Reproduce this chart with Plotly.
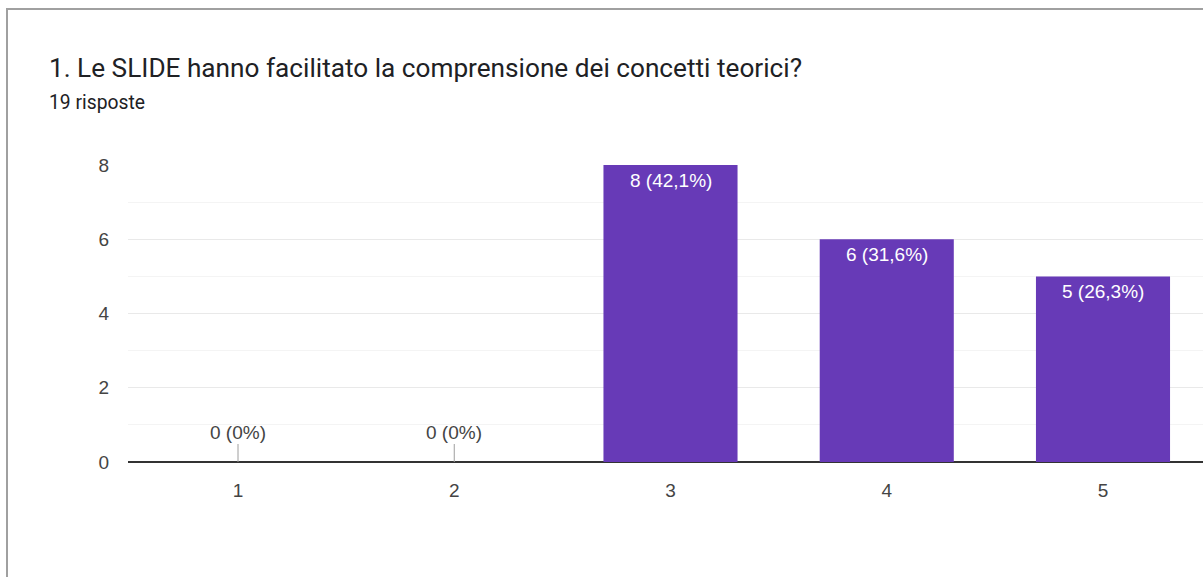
import plotly.graph_objects as go

categories = ["1", "2", "3", "4", "5"]
counts = [0, 0, 8, 6, 5]
labels = ["0 (0%)", "0 (0%)", "8 (42,1%)", "6 (31,6%)", "5 (26,3%)"]
y_ticks = [0, 2, 4, 6, 8]

title_text = "1. Le SLIDE hanno facilitato la comprensione dei concetti teorici?"
subtitle_text = "19 risposte"

W, H = 1203, 577
ML, MR, MT, MB = 128, 0, 165, 115
PW, PH = W - ML - MR, H - MT - MB

def px_x(p):
    return (p - ML) / PW

def px_y(p):
    return (H - MB - p) / PH

PURPLE = "#673ab7"
TFONT = "Roboto"
CFONT = "Liberation Sans, Arial"
CSIZE = 19
BAND = 216.25
X0 = 1 - 110 / BAND

fig = go.Figure()
fig.add_trace(go.Bar(
    x=list(range(1, 6)), y=counts,
    marker=dict(color=PURPLE, line=dict(width=0)),
    width=0.62, hoverinfo="skip",
))

annotations = []
for i, (c, lab) in enumerate(zip(counts, labels)):
    xv = i + 1
    if c > 0:
        annotations.append(dict(
            x=xv, y=c, xref="x", yref="y", text=lab, showarrow=False,
            yanchor="top", yshift=-3,
            font=dict(family=CFONT, size=CSIZE, color="#ffffff"),
        ))
    else:
        annotations.append(dict(
            x=xv, y=0, xref="x", yref="y", text=lab, showarrow=True,
            ax=0, ay=-30, arrowhead=0, arrowwidth=1, arrowcolor="#9e9e9e",
            font=dict(family=CFONT, size=CSIZE, color="#444444"),
        ))

annotations.append(dict(
    x=px_x(47), y=px_y(68), xref="paper", yref="paper", text=title_text,
    showarrow=False, xanchor="left", yanchor="middle",
    font=dict(family=TFONT, size=26.2, color="#202124"),
))
annotations.append(dict(
    x=px_x(47), y=px_y(102), xref="paper", yref="paper", text=subtitle_text,
    showarrow=False, xanchor="left", yanchor="middle",
    font=dict(family=TFONT, size=19.3, color="#202124"),
))

fig.update_layout(
    width=W, height=H,
    margin=dict(l=ML, r=MR, t=MT, b=MB, pad=0),
    paper_bgcolor="white", plot_bgcolor="white",
    showlegend=False,
    font=dict(family=CFONT, size=CSIZE, color="#444444"),
    annotations=annotations,
    shapes=[dict(
        type="rect", xref="paper", yref="paper",
        x0=px_x(7), x1=px_x(1300), y0=px_y(700), y1=px_y(9),
        line=dict(color="#a0a0a0", width=2), fillcolor="rgba(0,0,0,0)",
        layer="above",
    )],
    xaxis=dict(
        range=[X0, X0 + PW / BAND],
        tickmode="array", tickvals=list(range(1, 6)), ticktext=categories,
        showgrid=False, zeroline=False, showline=False,
        ticks="outside", ticklen=11, tickcolor="rgba(0,0,0,0)",
        tickfont=dict(family=CFONT, size=CSIZE, color="#444444"),
    ),
    yaxis=dict(
        range=[0, 8], tickmode="array", tickvals=y_ticks,
        showgrid=True, gridcolor="#e9e9e9", gridwidth=1,
        minor=dict(dtick=1, showgrid=True, gridcolor="#f4f4f4", gridwidth=1),
        zeroline=True, zerolinecolor="#333333", zerolinewidth=2,
        showline=False,
        ticks="outside", ticklen=14, tickcolor="rgba(0,0,0,0)",
        tickfont=dict(family=CFONT, size=CSIZE, color="#444444"),
    ),
)

fig.write_html("out.html")
